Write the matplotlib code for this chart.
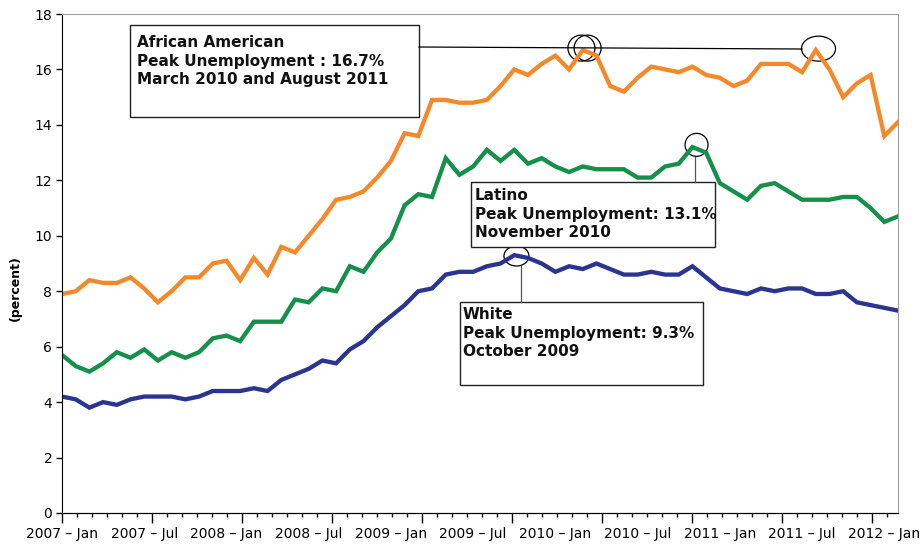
import numpy as np
import matplotlib
matplotlib.use('Agg')
import matplotlib.pyplot as plt
from matplotlib.patches import Ellipse, Rectangle
from matplotlib.lines import Line2D
from matplotlib.ticker import MultipleLocator

# monthly unemployment rate (percent), Jan 2007 - Feb 2012
african_american = [7.9, 8.0, 8.4, 8.3, 8.3, 8.5, 8.1, 7.6, 8.0, 8.5, 8.5, 9.0,
                    9.1, 8.4, 9.2, 8.6, 9.6, 9.4, 10.0, 10.6, 11.3, 11.4, 11.6, 12.1,
                    12.7, 13.7, 13.6, 14.9, 14.9, 14.8, 14.8, 14.9, 15.4, 16.0, 15.8, 16.2,
                    16.5, 16.0, 16.7, 16.5, 15.4, 15.2, 15.7, 16.1, 16.0, 15.9, 16.1, 15.8,
                    15.7, 15.4, 15.6, 16.2, 16.2, 16.2, 15.9, 16.7, 16.0, 15.0, 15.5, 15.8,
                    13.6, 14.1]
latino = [5.7, 5.3, 5.1, 5.4, 5.8, 5.6, 5.9, 5.5, 5.8, 5.6, 5.8, 6.3,
          6.4, 6.2, 6.9, 6.9, 6.9, 7.7, 7.6, 8.1, 8.0, 8.9, 8.7, 9.4,
          9.9, 11.1, 11.5, 11.4, 12.8, 12.2, 12.5, 13.1, 12.7, 13.1, 12.6, 12.8,
          12.5, 12.3, 12.5, 12.4, 12.4, 12.4, 12.1, 12.1, 12.5, 12.6, 13.2, 13.0,
          11.9, 11.6, 11.3, 11.8, 11.9, 11.6, 11.3, 11.3, 11.3, 11.4, 11.4, 11.0,
          10.5, 10.7]
white = [4.2, 4.1, 3.8, 4.0, 3.9, 4.1, 4.2, 4.2, 4.2, 4.1, 4.2, 4.4,
         4.4, 4.4, 4.5, 4.4, 4.8, 5.0, 5.2, 5.5, 5.4, 5.9, 6.2, 6.7,
         7.1, 7.5, 8.0, 8.1, 8.6, 8.7, 8.7, 8.9, 9.0, 9.3, 9.2, 9.0,
         8.7, 8.9, 8.8, 9.0, 8.8, 8.6, 8.6, 8.7, 8.6, 8.6, 8.9, 8.5,
         8.1, 8.0, 7.9, 8.1, 8.0, 8.1, 8.1, 7.9, 7.9, 8.0, 7.6, 7.5,
         7.4, 7.3]
tick_labels = ['2007 – Jan', '2007 – Jul', '2008 – Jan', '2008 – Jul', '2009 – Jan',
               '2009 – Jul', '2010 – Jan', '2010 – Jul', '2011 – Jan', '2011 – Jul',
               '2012 – Jan']

aa_text = 'African American\nPeak Unemployment : 16.7%\nMarch 2010 and August 2011'
lat_text = 'Latino\nPeak Unemployment: 13.1%\nNovember 2010'
wh_text = 'White\nPeak Unemployment: 9.3%\nOctober 2009'

months = np.arange(len(african_american))
aa_peaks = [38, 55]
lat_peak = 46
wh_peak = 33

W, H = 922, 544
def fx(x):
    return x / W
def fy(y):
    return 1 - y / H

fig = plt.figure(figsize=(W / 100, H / 100), dpi=100)
ax = fig.add_axes([fx(62), fy(513), fx(898) - fx(62), fy(14) - fy(513)])

ax.plot(months, african_american, color='#F5892A', lw=3.1, solid_joinstyle='miter')
ax.plot(months, latino, color='#15904A', lw=3.1, solid_joinstyle='miter')
ax.plot(months, white, color='#2B3590', lw=3.1, solid_joinstyle='miter')

ax.set_xlim(0, len(months) - 1)
ax.set_ylim(0, 18)
ax.set_yticks(np.arange(0, 19, 2))
ax.tick_params(axis='y', direction='out', length=4, width=1, labelsize=10, pad=3)

# labels sit on the months, the tick marks use Excel's own spacing
ax.set_xticks(np.arange(0, 61, 6))
ax.set_xticklabels(tick_labels)
ax.tick_params(axis='x', length=0, labelsize=10, pad=10)

step = 15 / ((898 - 62) / (len(months) - 1))
sec = ax.secondary_xaxis('bottom', functions=(lambda m: m / step, lambda t: t * step))
sec.set_xticks(np.arange(0, 55, 6))
sec.xaxis.set_minor_locator(MultipleLocator(1))
sec.tick_params(axis='x', which='major', direction='out', length=7, width=1, labelbottom=False)
sec.tick_params(axis='x', which='minor', direction='out', length=3, width=1)

for s in ['top', 'right']:
    ax.spines[s].set_color('#A0A0A0')
for s in ['left', 'bottom']:
    ax.spines[s].set_color('black')

fig.text(fx(15), fy(288), '(percent)', rotation=90, ha='center', va='center',
         fontsize=9, fontweight='bold')

# circles on the peaks
pxm = (898 - 62) / (len(months) - 1)
pxv = (513 - 14) / 18
for dx in [-0.1, 0.35]:
    ax.add_patch(Ellipse((aa_peaks[0] + dx, african_american[aa_peaks[0]] + 0.07),
                         27 / pxm, 26 / pxv, fill=False, lw=0.9, ec='black'))
ax.add_patch(Ellipse((aa_peaks[1] + 0.2, african_american[aa_peaks[1]] + 0.05),
                     34 / pxm, 25 / pxv, fill=False, lw=0.9, ec='black'))
ax.add_patch(Ellipse((lat_peak + 0.3, latino[lat_peak] + 0.08),
                     23 / pxm, 23 / pxv, fill=False, lw=0.9, ec='black'))
ax.add_patch(Ellipse((wh_peak + 0.16, white[wh_peak] - 0.03),
                     25 / pxm, 20 / pxv, fill=False, lw=0.9, ec='black'))

# text boxes
def box(x0, y0, x1, y1, tx, ty, txt):
    fig.add_artist(Rectangle((fx(x0), fy(y1)), fx(x1) - fx(x0), fy(y0) - fy(y1),
                             fill=True, fc='white', ec='#222222', lw=1))
    fig.text(fx(tx), fy(ty), txt, ha='left', va='top', fontsize=11,
             fontweight='bold', linespacing=1.3, color='#111111')

def leader(x0, y0, x1, y1, c='black'):
    fig.add_artist(Line2D([fx(x0), fx(x1)], [fy(y0), fy(y1)], color=c, lw=0.9))

leader(419, 47, 802, 49)
leader(695, 157, 695, 182, '#555555')
leader(521, 266, 521, 302, '#555555')
box(130, 25, 419, 117, 137, 35, aa_text)
box(471, 182, 715, 247, 475, 188, lat_text)
box(460, 302, 703, 385, 463, 307, wh_text)

plt.savefig('out.png', dpi=100)
plt.close(fig)
